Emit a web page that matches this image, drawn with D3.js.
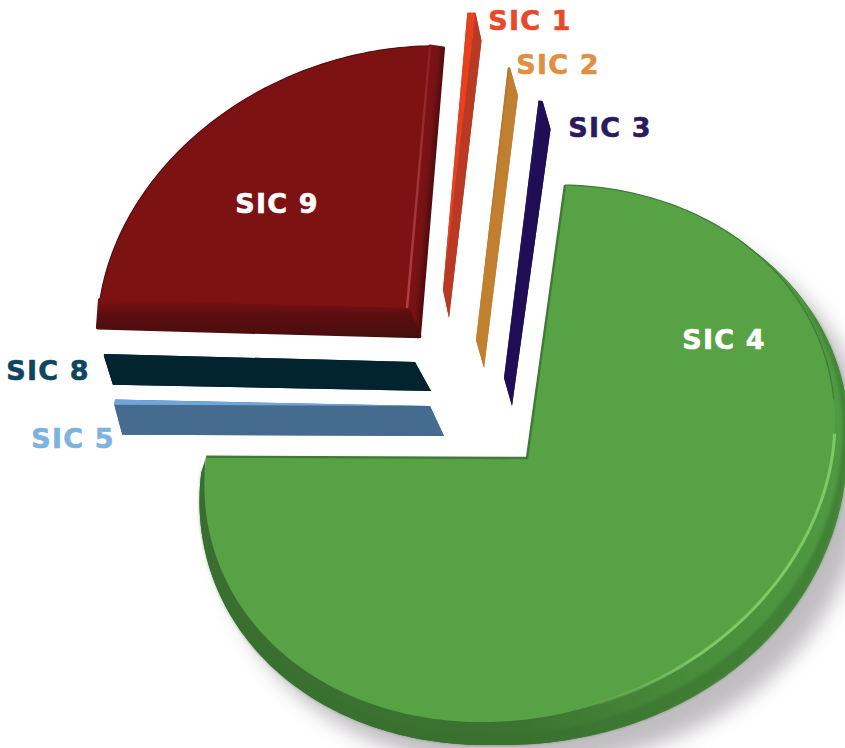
<!DOCTYPE html>
<html>
<head>
<meta charset="utf-8">
<script src="https://cdn.jsdelivr.net/npm/d3@7"></script>
<style>
  html, body { margin: 0; padding: 0; background: #fff; }
  svg { display: block; }
  text { font-family: "DejaVu Sans", Verdana, sans-serif; font-weight: 700; text-anchor: middle; dominant-baseline: central; }
</style>
</head>
<body>
<svg id="chart" width="845" height="748"></svg>
<script>
// Share of each SIC group, in percent, clockwise from the top of the pie.
const categories = ["SIC 1", "SIC 2", "SIC 3", "SIC 4", "SIC 5", "SIC 8", "SIC 9"];
const shares     = [0.4, 0.1, 0.2, 75.0, 0.3, 0.1, 23.8];
const faceColors = ["#e8401f", "#b5762e", "#23105a", "#58a246", "#6fa6dc", "#02242f", "#7d1213"];
const wallColors = ["#b93a24", "#c1802f", "#1f0e55", "#3c7331", "#456b8f", "#02242f", "#6b0f11"];
const labelColors = ["#e8492a", "#e08f3f", "#2a1a5e", "#ffffff", "#7fb2de", "#0f4560", "#ffffff"];

// How far each slice is pulled out of the pie, its scale, and its extrusion.
const layout = {
  "SIC 1": { dx: -84,  dy: -168, s: 1.015, wall: [6, 0, 0, 28],         label: [530, 20] },
  "SIC 2": { dx: -51,  dy: -118, s: 0.998, wall: [8, 0, 0, 28],         label: [558, 64] },
  "SIC 3": { dx: -23,  dy: -80,  s: 1.015, wall: [8, 0, 0, 28],         label: [610, 127] },
  "SIC 4": { dx: 0,    dy: 0,    s: 1,     wall: [-11, 0.03, 0.03, 1.3], bulge: 10, label: [724, 339] },
  "SIC 5": { dx: -97,  dy: -52,  s: 0.984, wall: [5.8, 0.019, 0, 30],   label: [73, 438] },
  "SIC 8": { dx: -112, dy: -96,  s: 0.972, wall: [6.7, 0.0224, 0, 29],  label: [48, 370] },
  "SIC 9": { dx: -120, dy: -150, s: 0.96,  wall: [-6.7, 0.047, 0.1, -2.5], label: [277, 203] }
};

// The disc is seen in perspective: four rim points fix a projective mapping.
const centre = [527, 458];
const rim = [[206, 458], [565, 185], [832, 458], [490, 722]];
const project = (() => {
  const [[x0, y0], [x1, y1], [x2, y2], [x3, y3]] = rim;
  const sx = x0 - x1 + x2 - x3, sy = y0 - y1 + y2 - y3;
  const dx1 = x1 - x2, dx2 = x3 - x2, dy1 = y1 - y2, dy2 = y3 - y2;
  const det = dx1 * dy2 - dx2 * dy1;
  const g = (sx * dy2 - dx2 * sy) / det, h = (dx1 * sy - sx * dy1) / det;
  const a = x1 - x0 + g * x1, b = x3 - x0 + h * x3;
  const d = y1 - y0 + g * y1, e = y3 - y0 + h * y3;
  return (u, v) => {
    const s = (u - v + 1) / 2, t = (u + v + 1) / 2, w = g * s + h * t + 1;
    return [(a * s + b * t + x0) / w, (d * s + e * t + y0) / w];
  };
})();

const total = d3.sum(shares);
const lead = d3.sum(shares.slice(0, 3)) / total * 2 * Math.PI;
const pie = d3.pie().sort(null).startAngle(-lead).endAngle(2 * Math.PI - lead);
const arcs = pie(shares);

const line = d3.line();
const closed = d3.line().curve(d3.curveLinearClosed);

function sliceGeometry(i) {
  const cfg = layout[categories[i]];
  const top = (theta, r) => {
    const p = r === 0 ? centre : project(Math.sin(theta), -Math.cos(theta));
    return [centre[0] + cfg.s * (p[0] - centre[0]) + cfg.dx,
            centre[1] + cfg.s * (p[1] - centre[1]) + cfg.dy];
  };
  const [a, b, c, d] = cfg.wall;
  const drop = ([x, y], theta) => {
    // The near rim of the disc reads deeper than the far rim.
    const q = theta !== undefined && cfg.bulge && theta > Math.PI / 2 && theta < Math.PI
      ? cfg.bulge * Math.sin(2 * (theta - Math.PI / 2)) * Math.SQRT1_2 : 0;
    return [x + a + b * x + q, y + c * y + d + q];
  };
  const { startAngle, endAngle } = arcs[i];
  const n = Math.max(2, Math.ceil((endAngle - startAngle) * 60));
  const thetas = d3.range(n + 1).map(k => startAngle + (endAngle - startAngle) * k / n);
  const rimTop = thetas.map(t => top(t, 1));
  const rimBottom = rimTop.map((p, k) => drop(p, thetas[k]));
  const apex = top(0, 0);
  return { cfg, rimTop, rimBottom, thetas, apex, apexBottom: drop(apex) };
}

const svg = d3.select("#chart");
const defs = svg.append("defs");

defs.append("filter").attr("id", "soft")
  .attr("x", "-20%").attr("y", "-20%").attr("width", "140%").attr("height", "140%")
  .append("feGaussianBlur").attr("stdDeviation", 10);
defs.append("filter").attr("id", "glow")
  .append("feGaussianBlur").attr("stdDeviation", 0.7);
defs.append("filter").attr("id", "shade")
  .attr("x", "-5%").attr("y", "-5%").attr("width", "110%").attr("height", "110%")
  .append("feGaussianBlur").attr("stdDeviation", 1.6);

function linearGradient(id, x1, y1, x2, y2, stops) {
  const grad = defs.append("linearGradient").attr("id", id)
    .attr("gradientUnits", "userSpaceOnUse")
    .attr("x1", x1).attr("y1", y1).attr("x2", x2).attr("y2", y2);
  stops.forEach(([o, col, op]) => grad.append("stop")
    .attr("offset", o).attr("stop-color", col).attr("stop-opacity", op === undefined ? 1 : op));
  return `url(#${id})`;
}

const geo = arcs.map((_, i) => sliceGeometry(i));
const main = categories.indexOf("SIC 4");
const big = categories.indexOf("SIC 9");

// Soft shadow cast by the large slice.
const g4 = geo[main];
svg.append("path")
  .attr("d", closed([g4.apexBottom, ...g4.rimBottom].map(([x, y]) => [x + 20, y + 22])))
  .attr("fill", "#c0bdc0")
  .attr("filter", "url(#soft)");

function drawWalls(i) {
  const g = geo[i];
  const group = svg.append("g").attr("class", "slice").datum(categories[i]);
  let wallFill = wallColors[i];
  if (i === main) {
    wallFill = linearGradient("wall-main", 206, 0, 840, 0,
      [[0, "#3a6e30"], [0.5, "#3c7331"], [0.8, "#4a8f3c"], [1, "#4f9a42"]]);
  }
  group.append("path").attr("d", closed([g.apexBottom, ...g.rimBottom])).attr("fill", wallFill);
  group.append("path")
    .attr("d", closed([...g.rimTop, ...g.rimBottom.slice().reverse()]))
    .attr("fill", wallFill);
  if (i !== main) {
    const last = g.rimTop.length - 1;
    group.append("path")
      .attr("d", closed([g.apex, g.rimTop[0], g.rimBottom[0], g.apexBottom]))
      .attr("fill", wallFill);
    group.append("path")
      .attr("d", closed([g.apex, g.rimTop[last], g.rimBottom[last], g.apexBottom]))
      .attr("fill", wallFill);
  }
  return { group, g };
}

const drawOrder = ["SIC 4", "SIC 5", "SIC 8", "SIC 9", "SIC 1", "SIC 2", "SIC 3"];
drawOrder.forEach(name => {
  const i = categories.indexOf(name);
  const { group, g } = drawWalls(i);
  const last = g.rimTop.length - 1;

  if (i === big) {
    // The side wall darkens towards its far edge, measured square to the ridge.
    const ex = g.rimTop[last][0] - g.apex[0], ey = g.rimTop[last][1] - g.apex[1];
    const len = Math.hypot(ex, ey), nx = -ey / len, ny = ex / len;
    const reach = (g.apexBottom[0] - g.apex[0]) * nx + (g.apexBottom[1] - g.apex[1]) * ny;
    const sideFill = linearGradient("wall-side",
      g.apex[0], g.apex[1], g.apex[0] + nx * reach, g.apex[1] + ny * reach,
      [[0, "#7d1213"], [0.55, "#761214"], [1, "#520b10"]]);
    group.append("path")
      .attr("d", closed([g.apex, g.rimTop[last], g.rimBottom[last], g.apexBottom]))
      .attr("fill", sideFill)
      .attr("stroke", sideFill).attr("stroke-width", 3).attr("stroke-linejoin", "round");
    // The front wall falls into shadow.
    const frontFill = linearGradient("wall-front", 0, g.rimTop[0][1], 0, g.apexBottom[1],
      [[0, "#7d1213"], [0.4, "#5c0e10"], [1, "#4a0d0e"]]);
    group.append("path")
      .attr("d", closed([g.apex, g.rimTop[0], g.rimBottom[0], g.apexBottom]))
      .attr("fill", frontFill)
      .attr("stroke", frontFill).attr("stroke-width", 4).attr("stroke-linejoin", "round");
  }

  if (i === main) {
    // Darker band on the outer part of the wall.
    const inner = g.rimTop.map((p, k) => [
      p[0] + 0.55 * (g.rimBottom[k][0] - p[0]),
      p[1] + 0.55 * (g.rimBottom[k][1] - p[1])]);
    const start = Math.floor(g.rimTop.length * 0.2);
    group.append("path")
      .attr("d", closed([...inner.slice(start), ...g.rimBottom.slice(start).reverse()]))
      .attr("fill", "#37702f").attr("opacity", 0.55).attr("filter", "url(#shade)");
  }

  // Top face.
  group.append("path")
    .attr("d", closed([g.apex, ...g.rimTop]))
    .attr("fill", faceColors[i]);

  if (i === main) {
    // Highlight along the near rim.
    const m = g.rimTop.length;
    const lit = g.rimTop.slice(Math.floor(m * 0.315), Math.floor(m * 0.63));
    const litStroke = linearGradient("rim-light", 590, 712, 700, 660,
      [[0, "#7fca63", 0], [1, "#7fca63", 1]]);
    group.append("path").attr("d", line(lit)).attr("fill", "none")
      .attr("stroke", litStroke).attr("stroke-width", 3).attr("filter", "url(#glow)");
    // Darker lines along the two cut edges and the far rim.
    group.append("path")
      .attr("d", line([g.rimTop[last], g.apex, g.rimTop[0]]))
      .attr("fill", "none").attr("stroke", "#3f7b35").attr("stroke-width", 2.4);
    group.append("path")
      .attr("d", line(g.rimTop.slice(0, Math.floor(m * 0.29))))
      .attr("fill", "none").attr("stroke", "#3f7b35").attr("stroke-width", 1.2);
  }
  if (i === big) {
    // A slim ridge where the side wall meets the top face.
    const ridge = linearGradient("ridge", 0, g.rimTop[last][1], 0, g.apex[1],
      [[0, "#a23a3c", 0.35], [0.5, "#a83c3e", 0.8], [1, "#b04244", 1]]);
    group.append("path")
      .attr("d", line([g.apex, g.rimTop[last]]))
      .attr("stroke", ridge).attr("stroke-width", 2.4).attr("fill", "none")
      .attr("filter", "url(#glow)");
    group.append("path").attr("d", line(g.rimTop)).attr("fill", "none")
      .attr("stroke", "#5c0d10").attr("stroke-width", 1.2);
  }
});

// Category labels.
svg.append("g").selectAll("text").data(categories).join("text")
  .attr("x", d => layout[d].label[0])
  .attr("y", d => layout[d].label[1])
  .attr("font-size", 27)
  .attr("letter-spacing", 1.2)
  .attr("fill", (d, i) => labelColors[i])
  .attr("stroke", (d, i) => labelColors[i])
  .attr("stroke-width", 0.6)
  .text(d => d);
</script>
</body>
</html>
